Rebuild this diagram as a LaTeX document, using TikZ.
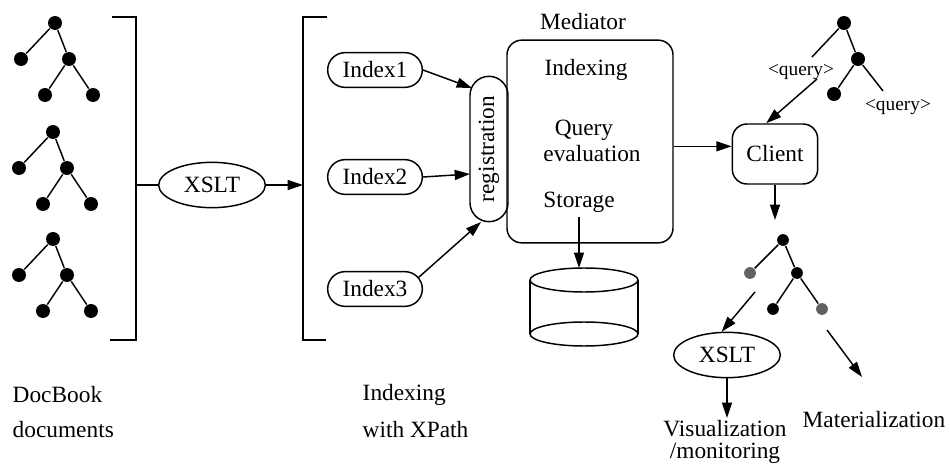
\documentclass[tikz,border=0pt]{standalone}
\usepackage{fontspec}
\setmainfont{Liberation Serif}
\usetikzlibrary{arrows.meta,shapes.geometric,shapes.misc}

\begin{document}
\begin{tikzpicture}[x=0.75pt,y=-0.75pt,
  font=\fontsize{17.5}{20}\selectfont,
  line width=1.1pt,
  dot/.style={circle,fill=black,inner sep=0pt,minimum size=10.5pt},
  odot/.style={circle,fill=black,inner sep=0pt,minimum size=8.8pt},
  gdot/.style={odot,fill=black!62},
  arr/.style={-{Triangle[length=11.5pt,width=7.5pt]}},
  pill/.style={draw,rounded rectangle,minimum width=71pt,minimum height=26pt,inner sep=0pt},
  oval/.style={draw,ellipse,minimum width=80pt,minimum height=34pt,inner sep=0pt},
  small/.style={font=\fontsize{14.5}{16}\selectfont}]

\useasboundingbox (0,0) rectangle (951,464);

% three source document trees
\foreach \i/\dx/\dy in {1/0/0,2/-2/109,3/-2/216}{
  \begin{scope}[shift={(\dx,\dy)}]
    \node[dot] (t\i-r) at (55,23) {};
    \node[dot] (t\i-l) at (21,59) {};
    \node[dot] (t\i-m) at (69,59) {};
    \node[dot] (t\i-a) at (45,95) {};
    \node[dot] (t\i-b) at (93,95) {};
    \draw (t\i-r) -- (t\i-l);
    \draw (t\i-r) -- (t\i-m);
    \draw (t\i-m) -- (t\i-a);
    \draw (t\i-m) -- (t\i-b);
  \end{scope}
}

% bracket gathering the documents
\draw (112,17) -- (136,17) -- (136,340) -- (110,340);
\coordinate (b1) at (136,185);

\node[oval] (x1) at (212,185) {XSLT};
\draw (b1) -- (x1);

% bracket of the index servers
\draw (327,17) -- (303,17) -- (303,340) -- (326,340);
\coordinate (b2) at (303,185);
\draw[arr] (x1) -- (b2);

\node[pill] (i1) at (375,70) {Index1};
\node[pill] (i2) at (375,177) {Index2};
\node[pill] (i3) at (375,289) {Index3};

\node[draw,rounded rectangle,rotate=90,minimum width=109pt,minimum height=28.5pt,inner sep=0pt] (reg) at (489,149) {registration};

\coordinate (r1) at (472,88);
\coordinate (r2) at (470,174);
\coordinate (r3) at (481,222);
\draw[arr] (i1.east) -- (r1);
\draw[arr] (i2.east) -- (r2);
\draw[arr] (i3.15) -- (r3);

% mediator
\node[draw,rounded corners=11pt,minimum width=124.5pt,minimum height=152pt,inner sep=0pt] (med) at (590,141.5) {};
\node (medl) at (583,22) {Mediator};
\node (idx) at (586,70) {Indexing};
\node (qry) at (584,130) {Query};
\node (evl) at (592,154) {evaluation};
\node (stor) at (579,202) {Storage};

% storage cylinder
\coordinate (dbtop) at (584,268);
\draw (530,280) -- (530,334);
\draw (638,280) -- (638,334);
\draw (584,280) ellipse [x radius=40.5pt, y radius=9pt];
\draw (584,334) ellipse [x radius=40.5pt, y radius=9pt];
\draw[arr] (stor.south) -- (stor.south |- dbtop);

% client
\node[draw,rounded corners=11pt,minimum width=64pt,minimum height=45pt,inner sep=0pt] (cli) at (775,154) {Client};
\draw[arr] (cli.170 -| med.east) -- (cli.170);

% query tree
\node[dot] (q-r) at (844,23) {};
\node[dot] (q-m) at (858,59) {};
\node[dot] (q-l) at (834,94) {};
\coordinate (qe1) at (812,57);
\coordinate (qe2) at (883,91);
\draw (q-r) -- (qe1);
\draw (q-r) -- (q-m);
\draw (q-m) -- (q-l);
\draw (q-m) -- (qe2);
\node[small] (ql1) at (801,72) {<query>};
\node[small] (ql2) at (898,107) {<query>};
\coordinate (qa) at (817,79);
\draw[arr] (qa) -- (cli.106);

% result tree
\coordinate (ot) at (775,220);
\draw[arr] (cli.south) -- (cli.south |- ot);
\node[odot] (o-r) at (783,240) {};
\node[gdot] (o-l) at (750,273) {};
\node[odot] (o-m) at (797,273) {};
\node[odot] (o-a) at (773,309) {};
\node[gdot] (o-b) at (822,309) {};
\draw (o-r) -- (o-l);
\draw (o-r) -- (o-m);
\draw (o-m) -- (o-a);
\draw (o-m) -- (o-b);

\node[oval] (x2) at (727,355) {XSLT};
\coordinate (va) at (755,292);
\draw[arr] (va) -- (x2.103);
\node[align=center,inner sep=1pt] (vis) at (725,442) {Visualization\\[-3pt]/monitoring};
\draw[arr] (x2.south) -- (x2.south |- vis.north);

\node[anchor=east,inner sep=0pt] (mat) at (946,420) {Materialization};
\coordinate (ma) at (827,330);
\coordinate (mb) at (862,377);
\draw[arr] (ma) -- (mb);

% captions
\node[anchor=west,inner sep=0pt] (c1) at (12,395) {DocBook};
\node[anchor=west,inner sep=0pt] (c2) at (12,430) {documents};
\node[anchor=west,inner sep=0pt] (c3) at (362,395) {Indexing};
\node[anchor=west,inner sep=0pt] (c4) at (362,430) {with XPath};
\end{tikzpicture}
\end{document}
